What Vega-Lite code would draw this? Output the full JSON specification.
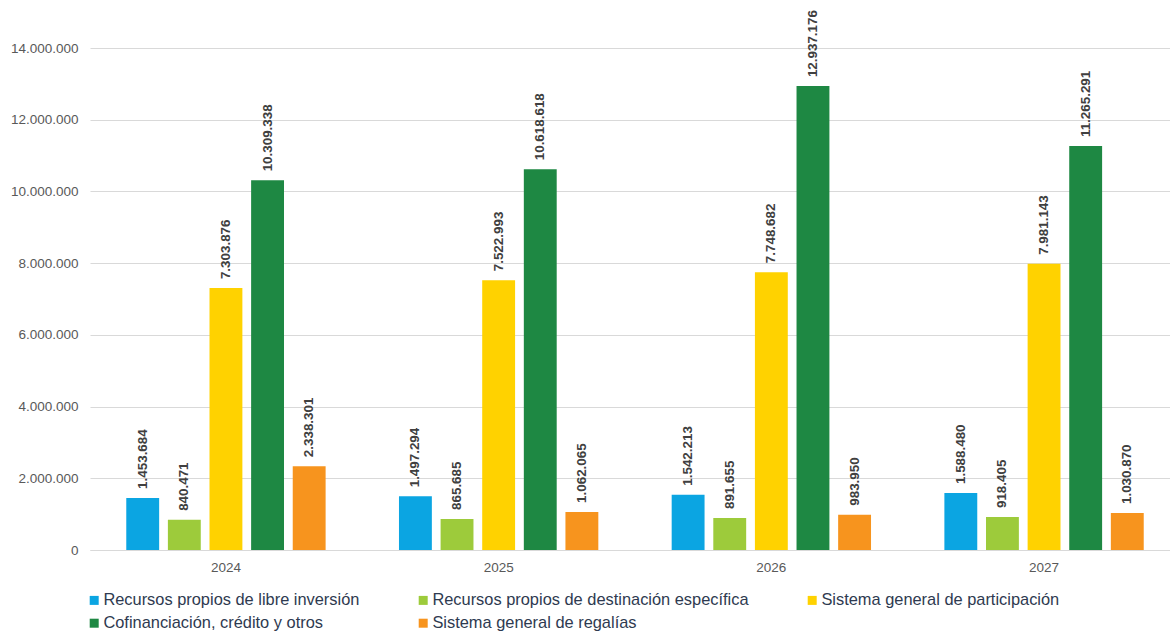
{
  "$schema": "https://vega.github.io/schema/vega-lite/v6.json",
  "width": 1090,
  "height": 502,
  "autosize": {"type": "none"},
  "padding": {"left": 90, "top": 48, "right": -10, "bottom": 84},
  "background": "white",
  "config": {
    "locale": {"number": {"decimal": ",", "thousands": ".", "grouping": [3], "currency": ["$", ""]}},
    "font": "Liberation Sans",
    "view": {"stroke": null}
  },
  "data": {
    "values": [
      {"anio": "2024", "fuente": "Recursos propios de libre inversión", "valor": 1453684},
      {"anio": "2024", "fuente": "Recursos propios de destinación específica", "valor": 840471},
      {"anio": "2024", "fuente": "Sistema general de participación", "valor": 7303876},
      {"anio": "2024", "fuente": "Cofinanciación, crédito y otros", "valor": 10309338},
      {"anio": "2024", "fuente": "Sistema general de regalías", "valor": 2338301},
      {"anio": "2025", "fuente": "Recursos propios de libre inversión", "valor": 1497294},
      {"anio": "2025", "fuente": "Recursos propios de destinación específica", "valor": 865685},
      {"anio": "2025", "fuente": "Sistema general de participación", "valor": 7522993},
      {"anio": "2025", "fuente": "Cofinanciación, crédito y otros", "valor": 10618618},
      {"anio": "2025", "fuente": "Sistema general de regalías", "valor": 1062065},
      {"anio": "2026", "fuente": "Recursos propios de libre inversión", "valor": 1542213},
      {"anio": "2026", "fuente": "Recursos propios de destinación específica", "valor": 891655},
      {"anio": "2026", "fuente": "Sistema general de participación", "valor": 7748682},
      {"anio": "2026", "fuente": "Cofinanciación, crédito y otros", "valor": 12937176},
      {"anio": "2026", "fuente": "Sistema general de regalías", "valor": 983950},
      {"anio": "2027", "fuente": "Recursos propios de libre inversión", "valor": 1588480},
      {"anio": "2027", "fuente": "Recursos propios de destinación específica", "valor": 918405},
      {"anio": "2027", "fuente": "Sistema general de participación", "valor": 7981143},
      {"anio": "2027", "fuente": "Cofinanciación, crédito y otros", "valor": 11265291},
      {"anio": "2027", "fuente": "Sistema general de regalías", "valor": 1030870}
    ]
  },
  "encoding": {
    "x": {
      "field": "anio", "type": "nominal", "title": null,
      "scale": {"paddingInner": 0.269, "paddingOuter": 0.133},
      "axis": {"labelAngle": 0, "labelColor": "#595959", "labelFontSize": 13.5, "labelPadding": 10, "ticks": false, "domainColor": "#D9D9D9", "domainWidth": 1}
    },
    "xOffset": {
      "field": "fuente", "type": "nominal",
      "sort": ["Recursos propios de libre inversión", "Recursos propios de destinación específica", "Sistema general de participación", "Cofinanciación, crédito y otros", "Sistema general de regalías"],
      "scale": {"paddingInner": 0.21}
    },
    "y": {
      "field": "valor", "type": "quantitative", "title": null,
      "scale": {"domain": [0, 14000000], "nice": false},
      "axis": {"values": [0, 2000000, 4000000, 6000000, 8000000, 10000000, 12000000, 14000000], "format": ",.0f", "labelColor": "#595959", "labelFontSize": 13.5, "labelPadding": 12, "ticks": false, "domain": false, "gridColor": "#D9D9D9", "gridWidth": 1}
    }
  },
  "layer": [
    {
      "mark": {"type": "bar"},
      "encoding": {
        "color": {
          "field": "fuente", "type": "nominal", "title": null,
          "sort": ["Recursos propios de libre inversión", "Recursos propios de destinación específica", "Sistema general de participación", "Cofinanciación, crédito y otros", "Sistema general de regalías"],
          "scale": {
            "domain": ["Recursos propios de libre inversión", "Recursos propios de destinación específica", "Sistema general de participación", "Cofinanciación, crédito y otros", "Sistema general de regalías"],
            "range": ["#0BA5E2", "#9DCB3B", "#FFD200", "#1E8843", "#F7941E"]
          },
          "legend": {
            "orient": "none", "legendX": -4, "legendY": 544, "direction": "horizontal", "columns": 3,
            "symbolType": "square", "symbolSize": 81, "symbolStrokeWidth": 0, "symbolOffset": 0,
            "labelFontSize": 16.4, "labelColor": "#2E3A50", "labelOffset": 1, "labelLimit": 400,
            "columnPadding": 55, "rowPadding": 6
          }
        }
      }
    },
    {
      "mark": {"type": "text", "angle": -90, "align": "left", "baseline": "middle", "dx": 9, "fontWeight": "bold", "fontSize": 13.4, "color": "#404040"},
      "encoding": {
        "text": {"field": "valor", "type": "quantitative", "format": ",.0f"}
      }
    }
  ]
}
